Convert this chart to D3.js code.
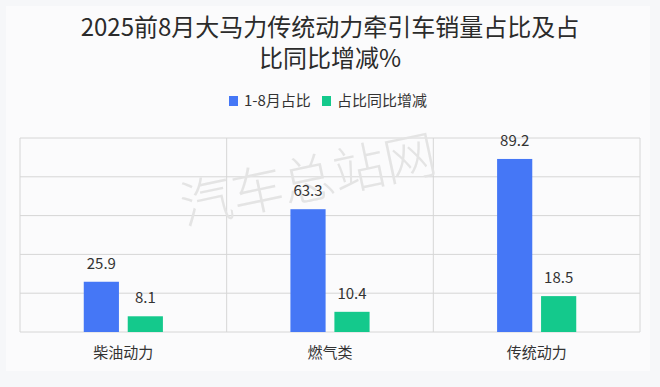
<!DOCTYPE html>
<html>
<head>
<meta charset="utf-8">
<script src="https://cdn.jsdelivr.net/npm/d3@7"></script>
<style>
  body { margin: 0; background: #f6f7f9; }
  svg { display: block; font-family: "Noto Sans CJK SC", "Noto Sans", sans-serif; }
</style>
</head>
<body>
<svg id="chart" width="660" height="387"></svg>
<script>
const categories = ["柴油动力", "燃气类", "传统动力"];
const seriesNames = ["1-8月占比", "占比同比增减"];
const shareValues = [25.9, 63.3, 89.2];
const changeValues = [8.1, 10.4, 18.5];
const yTicks = [0, 20, 40, 60, 80, 100];
const titleLines = ["2025前8月大马力传统动力牵引车销量占比及占", "比同比增减%"];
const colors = ["#4577f6", "#14c98c"];

const svg = d3.select("#chart");
const width = +svg.attr("width");
const height = +svg.attr("height");
const margin = { top: 138, right: 20, bottom: 55, left: 20 };

// soft card background
svg.append("rect")
  .attr("x", 6).attr("y", 6)
  .attr("width", width - 16).attr("height", height - 22)
  .attr("fill", "#fbfbfc");

// title, one text per line
svg.selectAll(".title")
  .data(titleLines)
  .join("text")
  .attr("class", "title")
  .attr("x", width / 2)
  .attr("y", (d, i) => 36 + i * 31)
  .attr("text-anchor", "middle")
  .attr("fill", "#2b2b2b")
  .style("font-size", "24px")
  .text(d => d);

// legend
const legendX = [229, 322];
const legend = svg.selectAll(".legend")
  .data(seriesNames)
  .join("g")
  .attr("transform", (d, i) => `translate(${legendX[i]}, 101)`);
legend.append("rect")
  .attr("x", 0).attr("y", -5)
  .attr("width", 9).attr("height", 10)
  .attr("fill", (d, i) => colors[i]);
legend.append("text")
  .attr("x", 15).attr("dy", "0.35em")
  .attr("fill", "#333")
  .style("font-size", "15px")
  .text(d => d);

const x0 = d3.scaleBand()
  .domain(categories)
  .range([margin.left, width - margin.right]);

const x1 = d3.scaleBand()
  .domain(seriesNames)
  .range([0, x0.bandwidth()])
  .paddingInner(0.2)
  .paddingOuter(1.45);

const y = d3.scaleLinear()
  .domain([0, 100])
  .range([height - margin.bottom, margin.top]);

// horizontal grid
svg.append("g")
  .selectAll("line")
  .data(yTicks)
  .join("line")
  .attr("x1", margin.left).attr("x2", width - margin.right)
  .attr("y1", d => y(d)).attr("y2", d => y(d))
  .attr("stroke", "#d6d6d6");

// vertical category dividers and frame
const dividers = categories.map(c => x0(c)).concat([width - margin.right]);
svg.append("g")
  .selectAll("line")
  .data(dividers)
  .join("line")
  .attr("x1", d => d).attr("x2", d => d)
  .attr("y1", y(100)).attr("y2", y(0))
  .attr("stroke", "#d6d6d6");

// watermark
svg.append("text")
  .attr("transform", "translate(312, 198) rotate(-12)")
  .attr("text-anchor", "middle")
  .attr("fill", "#e4e4e4")
  .style("font-size", "52px")
  .style("font-weight", 300)
  .text("汽车总站网");

const rows = categories.map((c, i) => ({ category: c, values: [shareValues[i], changeValues[i]] }));

const groups = svg.append("g")
  .selectAll("g")
  .data(rows)
  .join("g")
  .attr("transform", d => `translate(${x0(d.category)}, 0)`);

const bars = groups.selectAll("g")
  .data(d => d.values.map((v, i) => ({ series: seriesNames[i], value: v, i })))
  .join("g");

bars.append("rect")
  .attr("x", d => x1(d.series))
  .attr("y", d => y(d.value))
  .attr("width", x1.bandwidth())
  .attr("height", d => y(0) - y(d.value))
  .attr("fill", d => colors[d.i]);

bars.append("text")
  .attr("x", d => x1(d.series) + x1.bandwidth() / 2)
  .attr("y", d => y(d.value) - 13)
  .attr("text-anchor", "middle")
  .attr("fill", "#333")
  .style("font-size", "15px")
  .text(d => d.value);

// category labels
svg.append("g")
  .selectAll("text")
  .data(categories)
  .join("text")
  .attr("x", d => x0(d) + x0.bandwidth() / 2)
  .attr("y", height - margin.bottom + 26)
  .attr("text-anchor", "middle")
  .attr("fill", "#333")
  .style("font-size", "15px")
  .text(d => d);
</script>
</body>
</html>
